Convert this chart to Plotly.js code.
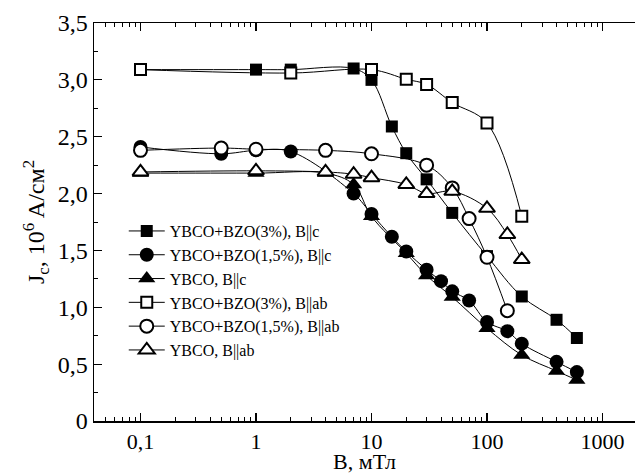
<!DOCTYPE html>
<html><head><meta charset="utf-8">
<script src="https://cdn.plot.ly/plotly-3.0.1.min.js"></script>
<style>html,body{margin:0;padding:0;background:#fff}#chart{width:635px;height:474px}</style>
</head><body><div id="chart"></div>
<script>
// Series names (legend)
const names = [
  'YBCO+BZO(3%), B||c',
  'YBCO+BZO(1,5%), B||c',
  'YBCO, B||c',
  'YBCO+BZO(3%), B||ab',
  'YBCO+BZO(1,5%), B||ab',
  'YBCO, B||ab'
];
// B, mT  /  Jc, 10^6 A/cm^2
const B_bzo3_c   = [0.1, 1, 2, 7, 10, 15, 20, 30, 50, 100, 200, 400, 600];
const J_bzo3_c   = [3.09, 3.09, 3.09, 3.10, 3.00, 2.59, 2.355, 2.125, 1.83, 1.45, 1.095, 0.89, 0.73];
const B_bzo15_c  = [0.1, 0.5, 1, 2, 7, 10, 15, 20, 30, 40, 50, 70, 100, 150, 200, 400, 600];
const J_bzo15_c  = [2.41, 2.35, 2.38, 2.37, 2.00, 1.82, 1.62, 1.49, 1.33, 1.23, 1.14, 1.06, 0.87, 0.79, 0.68, 0.52, 0.43];
const B_ybco_c   = [0.1, 1, 4, 7, 10, 20, 30, 50, 100, 200, 400, 600];
const J_ybco_c   = [2.18, 2.18, 2.18, 2.08, 1.80, 1.475, 1.28, 1.09, 0.815, 0.58, 0.44, 0.36];
const B_bzo3_ab  = [0.1, 2, 10, 20, 30, 50, 100, 200];
const J_bzo3_ab  = [3.09, 3.06, 3.09, 3.005, 2.96, 2.80, 2.62, 1.80];
const B_bzo15_ab = [0.1, 0.5, 1, 4, 10, 30, 50, 70, 100, 150];
const J_bzo15_ab = [2.38, 2.40, 2.39, 2.38, 2.35, 2.25, 2.05, 1.78, 1.44, 0.97];
const B_ybco_ab  = [0.1, 1, 4, 7, 10, 20, 30, 50, 100, 150, 200];
const J_ybco_ab  = [2.19, 2.20, 2.19, 2.17, 2.14, 2.08, 2.00, 2.02, 1.87, 1.64, 1.42];

// Tick labels
const xTickVals = [0.1, 1, 10, 100, 1000];
const xTickText = ['0,1', '1', '10', '100', '1000'];
const yTickVals = [0, 0.5, 1, 1.5, 2, 2.5, 3, 3.5];
const yTickText = ['0', '0,5', '1,0', '1,5', '2,0', '2,5', '3,0', '3,5'];

const xMinor = [];
[0.01, 0.1, 1, 10, 100, 1000].forEach(d => { for (let k = 2; k <= 9; k++) xMinor.push(d * k); });
const yMinor = [0.25, 0.75, 1.25, 1.75, 2.25, 2.75, 3.25];

const FONT = '"Liberation Serif", "Times New Roman", serif';

function trace(name, x, y, symbol, filled, size) {
  return {
    type: 'scatter', mode: 'lines+markers', name: name, x: x, y: y,
    line: {color: '#000', width: 1, shape: 'spline', smoothing: 1},
    marker: {symbol: symbol, size: size, color: filled ? '#000' : '#fff',
             line: {color: '#000', width: filled ? 0 : 2}}
  };
}

const data = [
  trace(names[0], B_bzo3_c, J_bzo3_c, 'square', true, 12),
  trace(names[1], B_bzo15_c, J_bzo15_c, 'circle', true, 14),
  trace(names[2], B_ybco_c, J_ybco_c, 'triangle-up', true, 15),
  trace(names[3], B_bzo3_ab, J_bzo3_ab, 'square', false, 11),
  trace(names[4], B_bzo15_ab, J_bzo15_ab, 'circle', false, 13),
  trace(names[5], B_ybco_ab, J_ybco_ab, 'triangle-up', false, 14)
];

const layout = {
  width: 635, height: 474,
  margin: {l: 94, r: 0, t: 23, b: 53},
  paper_bgcolor: '#fff', plot_bgcolor: '#fff',
  font: {family: FONT, color: '#000'},
  showlegend: true,
  legend: {x: 0.055, y: 0.52, xanchor: 'left', yanchor: 'top',
           bgcolor: 'rgba(0,0,0,0)', borderwidth: 0, itemwidth: 36,
           font: {family: FONT, size: 16, color: '#000'}},
  xaxis: {
    type: 'log', range: [-1.4026, 3.2814],
    tickmode: 'array', tickvals: xTickVals, ticktext: xTickText,
    ticks: 'inside', ticklen: 8, tickwidth: 1.2, tickcolor: '#000',
    showline: true, linewidth: 1.5, linecolor: '#000', mirror: 'ticks',
    showgrid: false, zeroline: false,
    minor: {tickmode: 'array', tickvals: xMinor, ticks: 'inside', ticklen: 4, tickwidth: 1, tickcolor: '#000', showgrid: false},
    tickfont: {family: FONT, size: 22, color: '#000'},
    title: {text: 'B, мТл', font: {family: FONT, size: 22, color: '#000'}, standoff: 0}
  },
  yaxis: {
    range: [0, 3.5],
    tickmode: 'array', tickvals: yTickVals, ticktext: yTickText,
    ticks: 'inside', ticklen: 8, tickwidth: 1.2, tickcolor: '#000',
    showline: true, linewidth: 1.5, linecolor: '#000', mirror: false,
    showgrid: false, zeroline: false,
    minor: {tickmode: 'array', tickvals: yMinor, ticks: 'inside', ticklen: 4, tickwidth: 1, tickcolor: '#000', showgrid: false},
    tickfont: {family: FONT, size: 24, color: '#000'},
    title: {text: 'J<sub>c</sub>, 10<sup>6</sup> A/см<sup>2</sup>', font: {family: FONT, size: 24, color: '#000'}, standoff: 6}
  }
};

Plotly.newPlot('chart', data, layout, {displayModeBar: false, staticPlot: true});
</script>
</body></html>
